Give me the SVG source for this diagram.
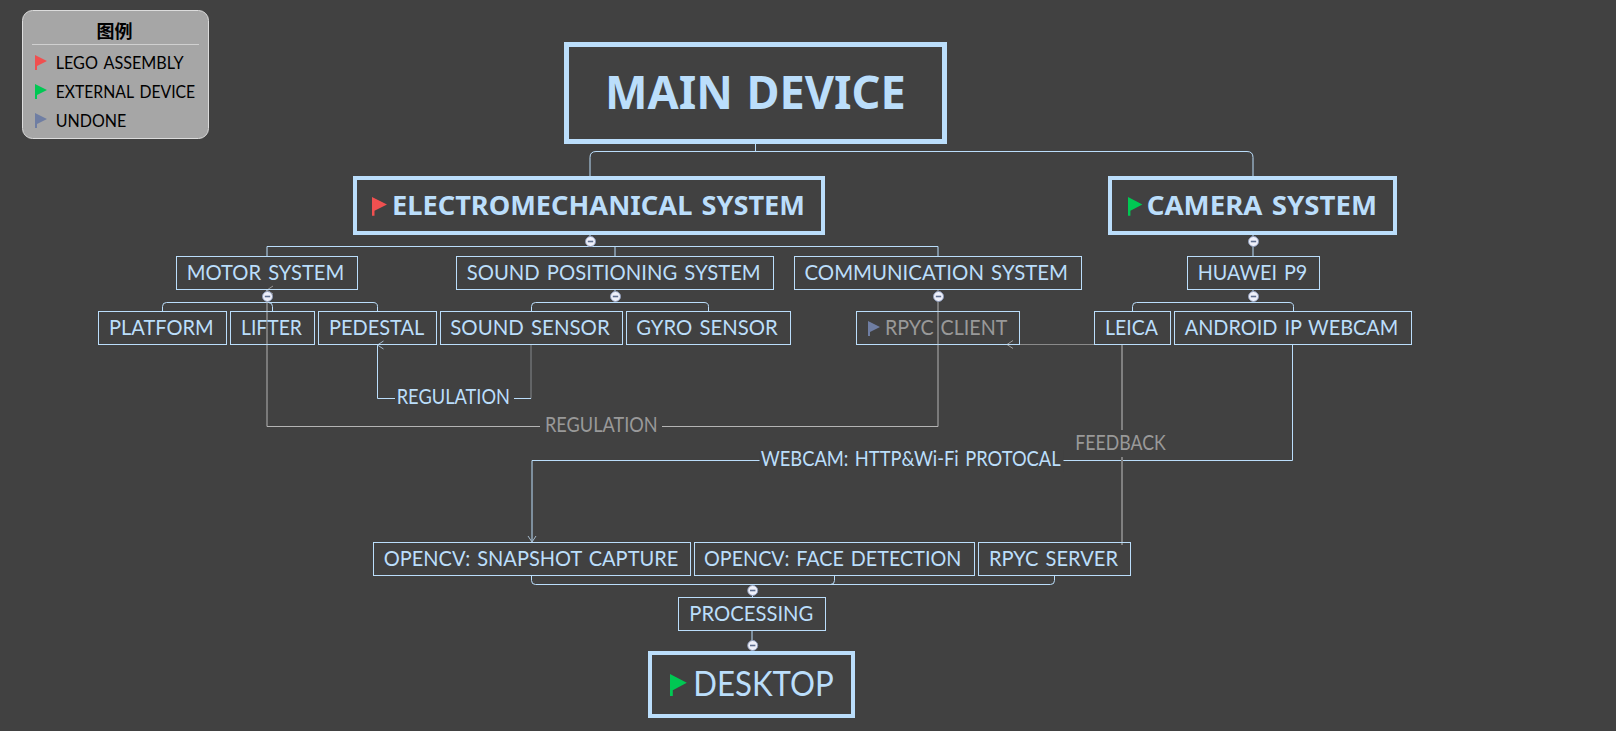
<svg xmlns="http://www.w3.org/2000/svg" xmlns:xlink="http://www.w3.org/1999/xlink" width="1616" height="731" viewBox="0 0 1616 731">
<style>
text{font-family:"Lato","Noto Sans","Noto Sans CJK SC",sans-serif;fill:#bbdefb;word-spacing:2px}
.box{fill:none;stroke:#bbdefb;stroke-width:1}
.hero{fill:none;stroke:#bbdefb;stroke-width:4}
.t{font-size:21px}
.b{font-family:"Noto Sans",sans-serif;font-size:27.500px;font-weight:700}
.lg{font-size:16.500px;fill:#000}
.line{fill:none;stroke:#bbdefb;stroke-width:1}
.rel{fill:none;stroke:#bbdefb;stroke-width:1;marker-end:url(#arrowB)}
.relg{fill:none;stroke:#b4b4b4;stroke-width:1;marker-end:url(#arrowG)}
.fb{fill:none;stroke:#808080;stroke-width:2}
.dim{fill:none;stroke:#85898d;stroke-width:1}
.gl{fill:#999}
.red{fill:#f05050}.green{fill:#00c853}.undone{fill:#6f7ea3}
</style>
<defs>
<path id="flag" d="M0 0L12 6L2 11V15H0Z"/>
<g id="fold"><circle r="5" fill="#eef0fa" stroke="#8d9ab8" stroke-width="1"/><path d="M-2.700 0H2.700" stroke="#5f6f90" stroke-width="1.600"/></g>
<marker id="arrowB" markerUnits="userSpaceOnUse" markerWidth="12" markerHeight="12" refX="7" refY="6" orient="auto" viewBox="0 0 12 12"><path d="M1 2L7 6L1 10" fill="none" stroke="#a6bccf" stroke-width="1"/></marker>
<marker id="arrowG" markerUnits="userSpaceOnUse" markerWidth="12" markerHeight="12" refX="7" refY="6" orient="auto" viewBox="0 0 12 12"><path d="M1 2L7 6L1 10" fill="none" stroke="#9a9a9a" stroke-width="1"/></marker>
</defs>
<rect width="1616" height="731" fill="#414141"/>

<g id="connectors">
<path class="line" d="M755.500 144V151.500M590 176V157.500Q590 151.500 596 151.500H1247Q1253 151.500 1253 157.500V176"/>
<path class="line" d="M590 235V246.500M267 256V246.500H938V256M615 246.500V256"/>
<path class="line" d="M1253 235V256"/>
<path class="line" d="M267 290V302.500M162.500 311V306.500Q162.500 302.500 166.500 302.500H373Q377.500 302.500 377.500 306.500V311M272.500 311V306.500Q272.500 302.500 268.500 302.500"/>
<path class="line" d="M615 290V302.500M531.500 311V306.500Q531.500 302.500 535.500 302.500H704Q708.500 302.500 708.500 306.500V311"/>
<path class="line" d="M1253 290V302.500M1132.500 311V306.500Q1132.500 302.500 1136.500 302.500H1289Q1293.500 302.500 1293.500 306.500V311"/>
<path class="line" d="M531.500 575.500V580.500Q531.500 584.500 535.500 584.500H1050.500Q1054.500 584.500 1054.500 580.500V575.500M834.500 575.500V580.500Q834.500 584.500 830.500 584.500M752.500 584.500V597M752 630.500V651"/>
<path class="relg" d="M938 290V426.500H267V290h-0.010"/>
<path class="dim" d="M531 345V398.500"/>
<path class="rel" d="M531 398.500H377.500V345h-0.010"/>
<path class="rel" d="M1292.500 345V460.500H532V542"/>
<path class="fb" d="M1122 545V344.500"/>
<path class="relg" style="stroke:#8a8a8a" d="M1122 344.500H1007"/>
<g fill="#414141">
<rect x="395" y="388" width="119" height="22"/>
<rect x="540" y="416" width="122" height="22"/>
<rect x="759.500" y="450" width="304" height="22"/>
<rect x="1072" y="430" width="96" height="27"/>
</g>
<text class="t" x="396.700" y="404" textLength="113.300" lengthAdjust="spacingAndGlyphs">REGULATION</text>
<text class="t gl" x="545" y="431.700" textLength="112.700" lengthAdjust="spacingAndGlyphs">REGULATION</text>
<text class="t" x="760.700" y="465.700" textLength="300" lengthAdjust="spacingAndGlyphs">WEBCAM: HTTP&amp;Wi-Fi PROTOCAL</text>
<text class="t gl" x="1075.300" y="450" textLength="90.400" lengthAdjust="spacingAndGlyphs">FEEDBACK</text>
</g>

<g id="legend">
<rect x="22.500" y="10.500" width="186" height="128" rx="10" fill="#a6a6a6" stroke="#dcdcdc"/>
<path d="M32 44.500H199" stroke="#d0d0d0"/>
<text x="114.500" y="37.500" text-anchor="middle" style="font-family:'Noto Sans CJK SC',sans-serif;font-size:18px;font-weight:700;fill:#000">图例</text>
<use xlink:href="#flag" href="#flag" x="35" y="55" class="red"/>
<text class="lg" x="55.700" y="69" textLength="128" lengthAdjust="spacingAndGlyphs">LEGO ASSEMBLY</text>
<use xlink:href="#flag" href="#flag" x="35" y="84" class="green"/>
<text class="lg" x="55.700" y="98" textLength="139.500" lengthAdjust="spacingAndGlyphs">EXTERNAL DEVICE</text>
<use xlink:href="#flag" href="#flag" x="35" y="113" class="undone"/>
<text class="lg" x="55.700" y="127" textLength="70.500" lengthAdjust="spacingAndGlyphs">UNDONE</text>
</g>

<g id="main-device">
<rect x="566.500" y="44.500" width="378" height="97" fill="none" stroke="#bbdefb" stroke-width="5"/>
<text x="605" y="109" style="font-family:'Noto Sans',sans-serif;font-size:47px;font-weight:700" textLength="300.700" lengthAdjust="spacingAndGlyphs">MAIN DEVICE</text>
</g>
<g id="electromechanical-system">
<rect class="hero" x="355" y="178" width="468" height="55"/>
<use xlink:href="#flag" href="#flag" transform="translate(372 197) scale(1.25)" class="red"/>
<text class="b" x="392" y="215" textLength="413" lengthAdjust="spacingAndGlyphs">ELECTROMECHANICAL SYSTEM</text>
<use xlink:href="#fold" href="#fold" x="590.500" y="241.500"/>
</g>
<g id="camera-system">
<rect class="hero" x="1110" y="178" width="285" height="55"/>
<use xlink:href="#flag" href="#flag" transform="translate(1128 197) scale(1.2 1.25)" class="green"/>
<text class="b" x="1146.700" y="215" textLength="230.300" lengthAdjust="spacingAndGlyphs">CAMERA SYSTEM</text>
<use xlink:href="#fold" href="#fold" x="1253.500" y="241.500"/>
</g>
<g id="motor-system">
<rect class="box" x="176.500" y="256.500" width="181" height="33"/>
<text class="t" x="186.700" y="280" textLength="157.600" lengthAdjust="spacingAndGlyphs">MOTOR SYSTEM</text>
<use xlink:href="#fold" href="#fold" x="267.500" y="296.500"/>
</g>
<g id="sound-positioning-system">
<rect class="box" x="456.500" y="256.500" width="317" height="33"/>
<text class="t" x="466.700" y="280" textLength="294" lengthAdjust="spacingAndGlyphs">SOUND POSITIONING SYSTEM</text>
<use xlink:href="#fold" href="#fold" x="615.500" y="296.500"/>
</g>
<g id="communication-system">
<rect class="box" x="794.500" y="256.500" width="287" height="33"/>
<text class="t" x="804.500" y="280" textLength="263.500" lengthAdjust="spacingAndGlyphs">COMMUNICATION SYSTEM</text>
<use xlink:href="#fold" href="#fold" x="938.500" y="296.500"/>
</g>
<g id="huawei-p9">
<rect class="box" x="1187.500" y="256.500" width="132" height="33"/>
<text class="t" x="1197.700" y="280" textLength="109.600" lengthAdjust="spacingAndGlyphs">HUAWEI P9</text>
<use xlink:href="#fold" href="#fold" x="1253.500" y="296.500"/>
</g>
<g id="platform"><rect class="box" x="98.500" y="311.500" width="128" height="33"/><text class="t" x="109" y="335" textLength="104.700" lengthAdjust="spacingAndGlyphs">PLATFORM</text></g>
<g id="lifter"><rect class="box" x="230.500" y="311.500" width="84" height="33"/><text class="t" x="241" y="335" textLength="61" lengthAdjust="spacingAndGlyphs">LIFTER</text></g>
<g id="pedestal"><rect class="box" x="318.500" y="311.500" width="118" height="33"/><text class="t" x="329" y="335" textLength="95.300" lengthAdjust="spacingAndGlyphs">PEDESTAL</text></g>
<g id="sound-sensor"><rect class="box" x="440.500" y="311.500" width="182" height="33"/><text class="t" x="450.300" y="335" textLength="159.400" lengthAdjust="spacingAndGlyphs">SOUND SENSOR</text></g>
<g id="gyro-sensor"><rect class="box" x="626.500" y="311.500" width="164" height="33"/><text class="t" x="636.300" y="335" textLength="141.400" lengthAdjust="spacingAndGlyphs">GYRO SENSOR</text></g>
<g id="rpyc-client"><rect class="box" x="856.500" y="311.500" width="163" height="33"/><use xlink:href="#flag" href="#flag" x="868" y="321" class="undone"/><text class="t gl" x="885" y="335" textLength="122.300" lengthAdjust="spacingAndGlyphs">RPYC CLIENT</text></g>
<g id="leica"><rect class="box" x="1094.500" y="311.500" width="76" height="33"/><text class="t" x="1105" y="335" textLength="53" lengthAdjust="spacingAndGlyphs">LEICA</text></g>
<g id="android-ip-webcam"><rect class="box" x="1174.500" y="311.500" width="237" height="33"/><text class="t" x="1184.700" y="335" textLength="213.600" lengthAdjust="spacingAndGlyphs">ANDROID IP WEBCAM</text></g>
<g id="opencv-snapshot-capture"><rect class="box" x="373.500" y="542.500" width="317" height="33"/><text class="t" x="383.700" y="565.700" textLength="294.600" lengthAdjust="spacingAndGlyphs">OPENCV: SNAPSHOT CAPTURE</text></g>
<g id="opencv-face-detection"><rect class="box" x="694.500" y="542.500" width="280" height="33"/><text class="t" x="704" y="565.700" textLength="257.300" lengthAdjust="spacingAndGlyphs">OPENCV: FACE DETECTION</text></g>
<g id="rpyc-server"><rect class="box" x="978.500" y="542.500" width="152" height="33"/><text class="t" x="989" y="565.700" textLength="129" lengthAdjust="spacingAndGlyphs">RPYC SERVER</text></g>
<g id="processing"><rect class="box" x="678.500" y="597.500" width="147" height="33"/><text class="t" x="689.300" y="620.700" textLength="124" lengthAdjust="spacingAndGlyphs">PROCESSING</text><use xlink:href="#fold" href="#fold" x="752.700" y="590.500"/><use xlink:href="#fold" href="#fold" x="752.700" y="645.500"/></g>
<g id="desktop">
<rect class="hero" x="650" y="653" width="203" height="63"/>
<use xlink:href="#flag" href="#flag" transform="translate(670 674) scale(1.4 1.47)" class="green"/>
<text x="693.300" y="695.500" style="font-size:34px" textLength="140.400" lengthAdjust="spacingAndGlyphs">DESKTOP</text>
</g>
</svg>
